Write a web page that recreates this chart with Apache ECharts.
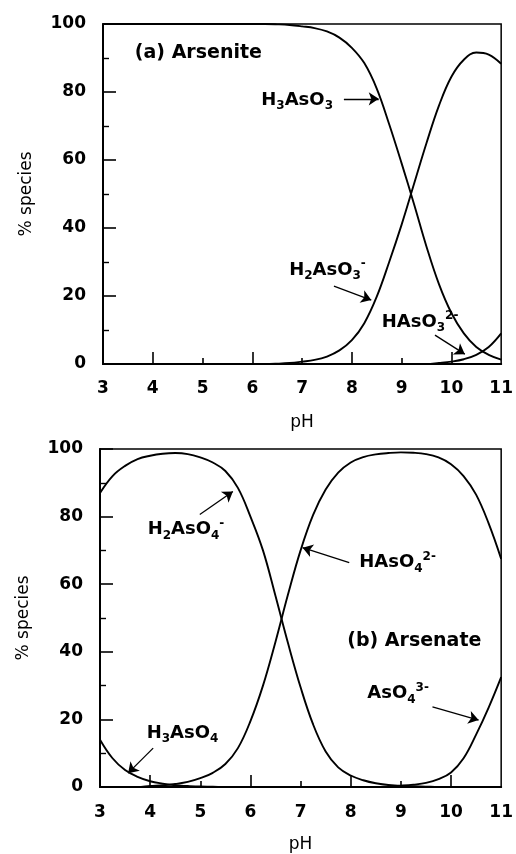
<!DOCTYPE html>
<html>
<head>
<meta charset="utf-8">
<script src="https://cdn.jsdelivr.net/npm/echarts@6/dist/echarts.min.js"></script>
<style>
html,body{margin:0;padding:0;background:#fff;}
#c{width:516px;height:854px;}
</style>
</head>
<body>
<div id="c"></div>
<script>
// ---- data ----
const pH = [3,3.25,3.5,3.75,4,4.25,4.5,4.75,5,5.25,5.5,5.75,6,6.25,6.5,6.75,7,7.25,7.5,7.75,8,8.25,8.5,8.75,9,9.25,9.5,9.75,10,10.25,10.5,10.75,11];
const xTickLabels = [3,4,5,6,7,8,9,10,11];
const yTickLabels = [0,20,40,60,80,100];

// (a) Arsenite
const H3AsO3 = [100,100,100,100,100,100,100,100,100,100,100,100,100,100,99.9,99.7,99.3,98.8,97.8,96,93,88.5,81,70.5,59,47,34.5,23.5,15,9,5,2.7,1.3];
const H2AsO3 = [0,0,0,0,0,0,0,0,0,0,0,0,0,0,0.1,0.3,0.7,1.2,2.2,4,7,12,19.8,30,41,53,65,76,84.5,89.5,91.6,91,88.3];
const HAsO3  = [0,0,0,0,0,0,0,0,0,0,0,0,0,0,0,0,0,0,0,0,0,0,0,0,0,0,0,0.3,0.7,1.4,2.7,5,9];

// (b) Arsenate
const H3AsO4 = [14,8.5,5,3,1.7,1,0.5,0.3,0.15,0.1,0,0,0,0,0,0,0,0,0,0,0,0,0,0,0,0,0,0,0,0,0,0,0];
const H2AsO4 = [87,92,95,97,98,98.6,98.8,98.5,97.5,96,93.5,88.5,80,70,56.5,42.5,29.5,18.5,10.5,5.8,3.4,2,1.1,0.6,0.3,0.2,0.1,0,0,0,0,0,0];
const HAsO4  = [0,0,0,0,0.3,0.5,0.9,1.5,2.6,4.2,6.8,11.5,19.5,30,43,57,70,80.5,88,93,96,97.6,98.4,98.8,99,98.9,98.5,97.5,95.5,92,86.5,78,67.5];
const AsO4   = [0,0,0,0,0,0,0,0,0,0,0,0,0,0,0,0,0,0,0,0,0,0,0,0.2,0.4,0.7,1.2,2.3,4.3,8.5,15.5,23.5,32.5];

// ---- annotations (data coordinates) ----
const labelsA = [
  {text:'{t|(a) Arsenite}', at:[3.64, 91.4]},
  {text:'{b|H}{sub|3}{b|AsO}{sub|3}', at:[6.18, 77.6]},
  {text:'{b|H}{sub|2}{b|AsO}{sub|3}{sup|-}', at:[6.74, 27.6]},
  {text:'{b|HAsO}{sub|3}{sup|2-}', at:[8.6, 12.4]}
];
const arrowsA = [
  [7.84, 78, 8.54, 78],
  [7.64, 22.9, 8.39, 18.8],
  [9.67, 8.5, 10.27, 2.9]
];
const labelsB = [
  {text:'{b|H}{sub|2}{b|AsO}{sub|4}{sup|-}', at:[3.95, 76.2]},
  {text:'{b|HAsO}{sub|4}{sup|2-}', at:[8.17, 66.4]},
  {text:'{t|(b) Arsenate}', at:[7.93, 43.3]},
  {text:'{b|AsO}{sub|4}{sup|3-}', at:[8.33, 27.6]},
  {text:'{b|H}{sub|3}{b|AsO}{sub|4}', at:[3.93, 15.9]}
];
const arrowsB = [
  [4.99, 80.6, 5.65, 87.4],
  [7.97, 66.4, 7.04, 70.8],
  [9.63, 23.7, 10.55, 19.8],
  [4.06, 11.5, 3.56, 4.1]
];

// ---- build ----
const FF = 'DejaVu Sans';
const pairs = ys => pH.map((x, i) => [x, ys[i]]);
const rich = {
  t:  {fontFamily:FF, fontSize:19, fontWeight:'bold', color:'#000', lineHeight:24, verticalAlign:'middle'},
  b:  {fontFamily:FF, fontSize:18, fontWeight:'bold', color:'#000', lineHeight:24, verticalAlign:'middle'},
  sub:{fontFamily:FF, fontSize:12, fontWeight:'bold', color:'#000', lineHeight:12, verticalAlign:'bottom'},
  sup:{fontFamily:FF, fontSize:12, fontWeight:'bold', color:'#000', lineHeight:12, verticalAlign:'top'}
};
function markPoints(list){
  return {
    silent:true, symbol:'circle', symbolSize:0, animation:false,
    data: list.map(l => ({
      coord:l.at, value:0,
      label:{show:true, position:'right', distance:0, formatter:l.text, rich:rich}
    }))
  };
}
function markLines(list){
  return {
    silent:true, animation:false, symbol:['none','arrow'], symbolSize:10,
    lineStyle:{color:'#000', width:1.3, type:'solid'},
    itemStyle:{color:'#000'},
    label:{show:false},
    emphasis:{disabled:true},
    data: list.map(a => [
      {coord:[a[0],a[1]], symbol:'none'},
      {coord:[a[2],a[3]], symbol:'arrow', symbolSize:10}
    ])
  };
}
const axisLabelStyle = {color:'#000', fontFamily:FF, fontSize:17, fontWeight:'bold'};
function xMain(grid, margin, gap){
  return {
    type:'value', gridIndex:grid, min:3, max:11, interval:1,
    axisLine:{show:true, lineStyle:{color:'#000', width:2}},
    axisTick:{show:true, inside:true, length:12, customValues:[4,6,8,10], lineStyle:{color:'#000', width:1.6}},
    axisLabel:Object.assign({margin:margin, customValues:xTickLabels}, axisLabelStyle),
    splitLine:{show:false},
    name:'pH', nameLocation:'middle', nameGap:gap,
    nameTextStyle:{color:'#000', fontFamily:FF, fontSize:17}
  };
}
function xMinor(grid){
  return {
    type:'value', gridIndex:grid, min:3, max:11, interval:1, position:'bottom',
    axisLine:{show:false}, axisLabel:{show:false}, splitLine:{show:false},
    axisTick:{show:true, inside:true, length:6, customValues:[5,7,9], lineStyle:{color:'#000', width:1.6}}
  };
}
function yAxis(grid){
  return {
    type:'value', gridIndex:grid, min:0, max:100, interval:20,
    axisLine:{show:true, lineStyle:{color:'#000', width:2}},
    axisTick:{show:true, inside:true, length:13, lineStyle:{color:'#000', width:1.6}},
    minorTick:{show:true, splitNumber:2, length:6, lineStyle:{color:'#000', width:1.4}},
    axisLabel:Object.assign({margin:17, customValues:yTickLabels}, axisLabelStyle),
    splitLine:{show:false}, minorSplitLine:{show:false},
    name:'% species', nameLocation:'middle', nameGap:68,
    nameTextStyle:{color:'#000', fontFamily:FF, fontSize:17}
  };
}
function line(data, xi, yi, extra){
  return Object.assign({
    type:'line', xAxisIndex:xi, yAxisIndex:yi, data:pairs(data),
    symbol:'none', smooth:0.4, clip:true, animation:false, silent:true,
    lineStyle:{color:'#000', width:1.9}
  }, extra || {});
}

const option = {
  backgroundColor:'#fff',
  animation:false,
  grid:[
    {left:103, top:24, width:400, height:340, show:true, borderColor:'#000', borderWidth:1.5, backgroundColor:'transparent'},
    {left:100, top:449, width:402, height:340, show:true, borderColor:'#000', borderWidth:1.5, backgroundColor:'transparent'}
  ],
  xAxis:[ xMain(0, 16, 50), xMinor(0), xMain(1, 17, 49), xMinor(1) ],
  yAxis:[ yAxis(0), yAxis(1) ],
  series:[
    line(H3AsO3, 0, 0, {name:'H3AsO3', markPoint:markPoints(labelsA), markLine:markLines(arrowsA)}),
    line(H2AsO3, 0, 0, {name:'H2AsO3-'}),
    line(HAsO3, 0, 0, {name:'HAsO3 2-'}),
    line(H3AsO4, 2, 1, {name:'H3AsO4', markPoint:markPoints(labelsB), markLine:markLines(arrowsB)}),
    line(H2AsO4, 2, 1, {name:'H2AsO4-'}),
    line(HAsO4, 2, 1, {name:'HAsO4 2-'}),
    line(AsO4, 2, 1, {name:'AsO4 3-'})
  ]
};
const chart = echarts.init(document.getElementById('c'), null, {renderer:'canvas'});
chart.setOption(option);
</script>
</body>
</html>
